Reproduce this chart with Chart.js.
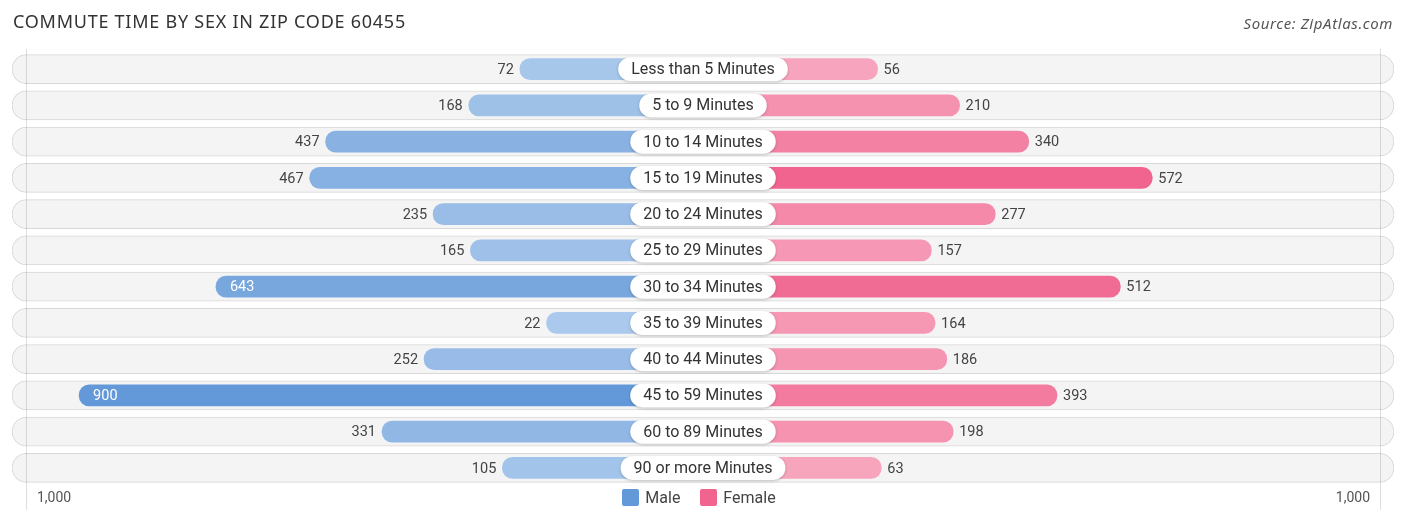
<!DOCTYPE html>
<html>
<head>
<meta charset="utf-8">
<script src="https://cdn.jsdelivr.net/npm/chart.js@4.4.1/dist/chart.umd.min.js"></script>
<style>
  html, body { margin: 0; padding: 0; background: #fff; }
  #wrap { position: relative; width: 1406px; height: 523px; overflow: hidden; }
  #chart { position: absolute; left: 0; top: 0; }
  .txt { position: absolute; font-family: Roboto, "Noto Sans", sans-serif; color: #444; white-space: nowrap; }
  #title { left: 13px; top: 9px; font-family: "Noto Sans", Inter, sans-serif; font-size: 18px; color: #333; letter-spacing: 0.75px; }
  #source { right: 13px; top: 13px; font-family: "Noto Sans", sans-serif; font-style: italic; font-size: 15px; color: #555; letter-spacing: 0.6px; }
  #axisLeft { left: 37px; top: 489px; font-size: 14px; color: #555; }
  #axisRight { right: 36px; top: 489px; font-size: 14px; color: #555; }
  #legend { left: -4px; width: 1406px; top: 488px; text-align: center; font-size: 16px; color: #444; }
  #legend span.sw { display: inline-block; width: 17px; height: 17px; border-radius: 2px; vertical-align: -3px; margin-right: 6px; }
  #legend span.item { margin: 0 8px; }
</style>
</head>
<body>
<div id="wrap">
  <canvas id="chart" width="1406" height="523"></canvas>
  <div id="title" class="txt">COMMUTE TIME BY SEX IN ZIP CODE 60455</div>
  <div id="source" class="txt">Source: ZipAtlas.com</div>
  <div id="axisLeft" class="txt">1,000</div>
  <div id="axisRight" class="txt">1,000</div>
  <div id="legend" class="txt">
    <span class="item"><span class="sw" style="background:#6399d9"></span>Male</span>
    <span class="item"><span class="sw" style="background:#f0648f"></span>Female</span>
  </div>
</div>
<script>
// Data
const categories = [
  'Less than 5 Minutes', '5 to 9 Minutes', '10 to 14 Minutes', '15 to 19 Minutes',
  '20 to 24 Minutes', '25 to 29 Minutes', '30 to 34 Minutes', '35 to 39 Minutes',
  '40 to 44 Minutes', '45 to 59 Minutes', '60 to 89 Minutes', '90 or more Minutes'
];
const maleValues = [72, 168, 437, 467, 235, 165, 643, 22, 252, 900, 331, 105];
const femaleValues = [56, 210, 340, 572, 277, 157, 512, 164, 186, 393, 198, 63];
const axisTickValue = 1000;

// Bars start behind the centre label, so each bar gets a fixed base length
const BASE = 272;
const RANGE = 1298;

const maleMax = Math.max(...maleValues);
const femaleMax = Math.max(...femaleValues);

function mix(light, dark, t) {
  const c = light.map((l, i) => Math.round(l + (dark[i] - l) * t));
  return `rgb(${c[0]},${c[1]},${c[2]})`;
}
const maleColors = maleValues.map(v => mix([172, 202, 236], [99, 153, 217], v / maleMax));
const femaleColors = femaleValues.map(v => mix([248, 172, 195], [240, 100, 143], v / femaleMax));

const labelsPlugin = {
  id: 'labels',
  afterDatasetsDraw(chart) {
    const ctx = chart.ctx;
    const xs = chart.scales.x;
    const ys = chart.scales.y;
    const cx = xs.getPixelForValue(0);

    // faint vertical lines at +/- 1,000
    ctx.save();
    ctx.strokeStyle = 'rgba(0,0,0,0.13)';
    ctx.lineWidth = 1;
    [-1, 1].forEach(s => {
      const x = Math.round(xs.getPixelForValue(s * (BASE + axisTickValue))) + 0.5;
      ctx.beginPath();
      ctx.moveTo(x, chart.chartArea.top - 2);
      ctx.lineTo(x, 510);
      ctx.stroke();
    });
    ctx.restore();

    categories.forEach((cat, i) => {
      const y = ys.getPixelForValue(i);

      // centre label box
      ctx.save();
      ctx.font = '16px Roboto, sans-serif';
      const w = ctx.measureText(cat).width + 26;
      const h = 24;
      ctx.shadowColor = 'rgba(0,0,0,0.22)';
      ctx.shadowBlur = 3;
      ctx.shadowOffsetY = 1;
      ctx.fillStyle = '#fff';
      ctx.beginPath();
      ctx.roundRect(cx - w / 2, y - h / 2, w, h, 12);
      ctx.fill();
      ctx.restore();

      ctx.save();
      ctx.font = '16px Roboto, sans-serif';
      ctx.fillStyle = '#333';
      ctx.textAlign = 'center';
      ctx.textBaseline = 'middle';
      ctx.fillText(cat, cx, y + 1);

      // value labels
      ctx.font = '14.5px Roboto, sans-serif';
      const m = maleValues[i];
      const mx = xs.getPixelForValue(-(BASE + m));
      if (m >= 600) {
        ctx.fillStyle = '#fff';
        ctx.textAlign = 'left';
        ctx.fillText(m, mx + 14, y + 1);
      } else {
        ctx.fillStyle = '#444';
        ctx.textAlign = 'right';
        ctx.fillText(m, mx - 6, y + 1);
      }
      const f = femaleValues[i];
      const fx = xs.getPixelForValue(BASE + f);
      if (f >= 600) {
        ctx.fillStyle = '#fff';
        ctx.textAlign = 'right';
        ctx.fillText(f, fx - 14, y + 1);
      } else {
        ctx.fillStyle = '#444';
        ctx.textAlign = 'left';
        ctx.fillText(f, fx + 6, y + 1);
      }
      ctx.restore();
    });
  }
};

const ctx = document.getElementById('chart').getContext('2d');
new Chart(ctx, {
  type: 'bar',
  data: {
    labels: categories,
    datasets: [
      {
        label: 'Male',
        data: maleValues.map(v => [-(BASE + v), 0]),
        backgroundColor: maleColors,
        borderSkipped: false,
        borderRadius: 11,
        barThickness: 21,
        grouped: false,
        order: 1
      },
      {
        label: 'Female',
        data: femaleValues.map(v => [0, BASE + v]),
        backgroundColor: femaleColors,
        borderSkipped: false,
        borderRadius: 11,
        barThickness: 21,
        grouped: false,
        order: 1
      },
      {
        label: 'track',
        data: categories.map(() => [-RANGE, RANGE]),
        backgroundColor: '#f4f4f4',
        borderColor: '#d8d8d8',
        borderWidth: 1,
        borderSkipped: false,
        borderRadius: 14.5,
        barThickness: 29,
        grouped: false,
        order: 3
      }
    ]
  },
  options: {
    indexAxis: 'y',
    responsive: false,
    animation: false,
    layout: { padding: { left: 12, right: 12, top: 51, bottom: 37 } },
    scales: {
      x: { display: false, min: -RANGE, max: RANGE },
      y: { display: false }
    },
    plugins: {
      legend: { display: false },
      tooltip: { enabled: false }
    }
  },
  plugins: [labelsPlugin]
});
</script>
</body>
</html>
